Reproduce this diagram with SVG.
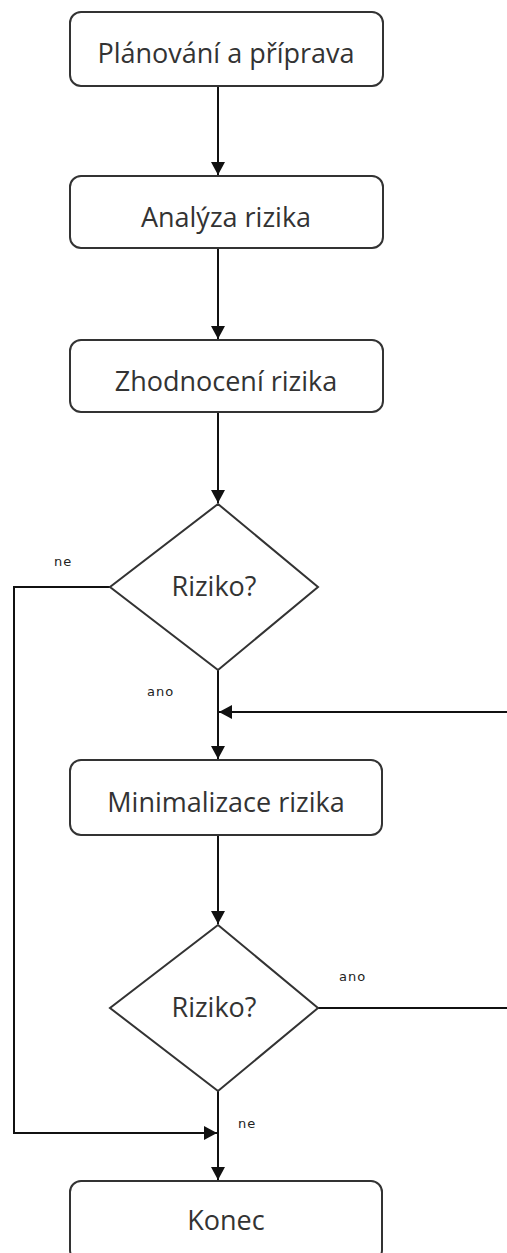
<svg xmlns="http://www.w3.org/2000/svg" width="507" height="1253" viewBox="0 0 507 1253">
  <style>
    .box { fill: #ffffff; stroke: #333333; stroke-width: 2; }
    .lbl { font-family: "Open Sans", "DejaVu Sans", sans-serif; font-size: 27px; fill: #333333; text-anchor: middle; }
    .small { font-family: "DejaVu Sans", sans-serif; font-size: 13px; fill: #222222; letter-spacing: 1px; }
    .wire { fill: none; stroke: #111111; stroke-width: 2; }
    .head { fill: #111111; }
  </style>
  <rect width="507" height="1253" fill="#ffffff"/>

  <g id="connectors">
    <path class="wire" d="M218,86 V175"/>
    <path class="head" d="M211,162 L218,175 L225,162 z"/>
    <path class="wire" d="M218,248 V339"/>
    <path class="head" d="M211,326 L218,339 L225,326 z"/>
    <path class="wire" d="M218,412 V503"/>
    <path class="head" d="M211,490 L218,503 L225,490 z"/>
    <path class="wire" d="M218,670 V759"/>
    <path class="head" d="M211,746 L218,759 L225,746 z"/>
    <path class="wire" d="M507,712 H219"/>
    <path class="head" d="M232,705 L219,712 L232,719 z"/>
    <path class="wire" d="M218,835 V924"/>
    <path class="head" d="M211,911 L218,924 L225,911 z"/>
    <path class="wire" d="M318,1008 H507"/>
    <path class="wire" d="M110,587 H14 V1133 H217"/>
    <path class="head" d="M204,1126 L217,1133 L204,1140 z"/>
    <path class="wire" d="M218,1090 V1180"/>
    <path class="head" d="M211,1167 L218,1180 L225,1167 z"/>
    <text class="small" x="54" y="566">ne</text>
    <text class="small" x="147" y="696">ano</text>
    <text class="small" x="339" y="981">ano</text>
    <text class="small" x="238" y="1128">ne</text>
  </g>

  <g id="planovani">
    <rect class="box" x="70" y="12" width="313" height="74" rx="11"/>
    <text class="lbl" x="226" y="63">Plánování a příprava</text>
  </g>
  <g id="analyza">
    <rect class="box" x="70" y="176" width="313" height="72" rx="11"/>
    <text class="lbl" x="226" y="227">Analýza rizika</text>
  </g>
  <g id="zhodnoceni">
    <rect class="box" x="70" y="340" width="313" height="72" rx="11"/>
    <text class="lbl" x="226" y="391">Zhodnocení rizika</text>
  </g>
  <g id="riziko1">
    <polygon class="box" points="218,504 318,587 218,670 110,587"/>
    <text class="lbl" x="214" y="596">Riziko?</text>
  </g>
  <g id="minimalizace">
    <rect class="box" x="70" y="760" width="312" height="75" rx="11"/>
    <text class="lbl" x="226" y="812">Minimalizace rizika</text>
  </g>
  <g id="riziko2">
    <polygon class="box" points="218,925 318,1008 218,1091 110,1008"/>
    <text class="lbl" x="214" y="1017">Riziko?</text>
  </g>
  <g id="konec">
    <rect class="box" x="70" y="1181" width="312" height="80" rx="11"/>
    <text class="lbl" x="226" y="1230">Konec</text>
  </g>
</svg>
